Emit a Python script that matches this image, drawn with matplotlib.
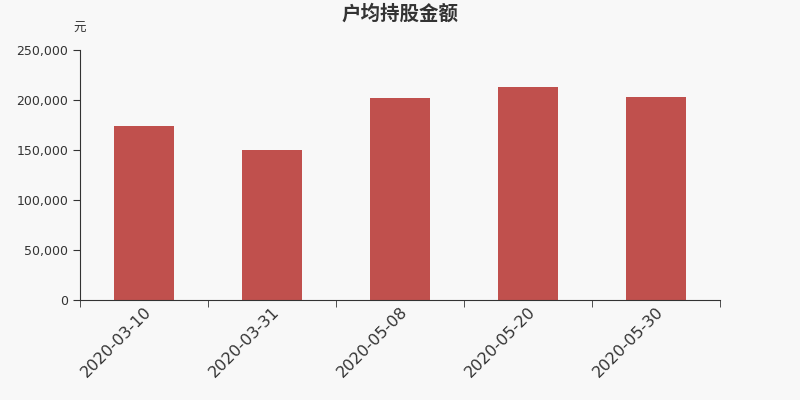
import numpy as np
import matplotlib
matplotlib.use("Agg")
import matplotlib.pyplot as plt
from matplotlib.ticker import FuncFormatter

plt.rcParams['font.family'] = ['DejaVu Sans', 'Noto Sans CJK SC']

dates = ["2020-03-10", "2020-03-31", "2020-05-08", "2020-05-20", "2020-05-30"]
amounts = [174300, 149800, 202000, 213300, 203000]

bg = "#f8f8f8"
axis_color = "#333333"
cjk = ['Noto Sans CJK SC', 'DejaVu Sans']

fig = plt.figure(figsize=(8, 4), dpi=100, facecolor=bg)
ax = fig.add_axes([0.1, 0.25, 0.8, 0.625], facecolor=bg)

x = np.arange(len(dates))
ax.bar(x, amounts, width=0.47, color="#c0504d", zorder=2)

ax.set_xlim(-0.5, len(dates) - 0.5)
ax.set_ylim(0, 250000)
ax.set_yticks(np.arange(0, 250001, 50000))
ax.yaxis.set_major_formatter(FuncFormatter(lambda v, p: f"{int(v):,}"))

ax.set_xticks(x)
ax.set_xticklabels(dates, rotation=45, ha="right", rotation_mode="anchor",
                   fontsize=11.5, color=axis_color)
ax.set_xticks(np.arange(-0.5, len(dates)), minor=True)
ax.tick_params(axis="x", which="major", length=0, pad=3)
ax.tick_params(axis="x", which="minor", length=5, color=axis_color)
ax.tick_params(axis="y", length=5, color=axis_color, labelcolor=axis_color, labelsize=9)

for s in ["top", "right"]:
    ax.spines[s].set_visible(False)
for s in ["left", "bottom"]:
    ax.spines[s].set_color(axis_color)

fig.text(0.5, 0.965, "户均持股金额", ha="center", va="center", fontsize=14,
         fontweight="bold", color=axis_color, family=cjk)
fig.text(0.1, 0.928, "元", ha="center", va="center", fontsize=9, color=axis_color,
         family=cjk)

fig.savefig("out.png", dpi=100, facecolor=bg)
